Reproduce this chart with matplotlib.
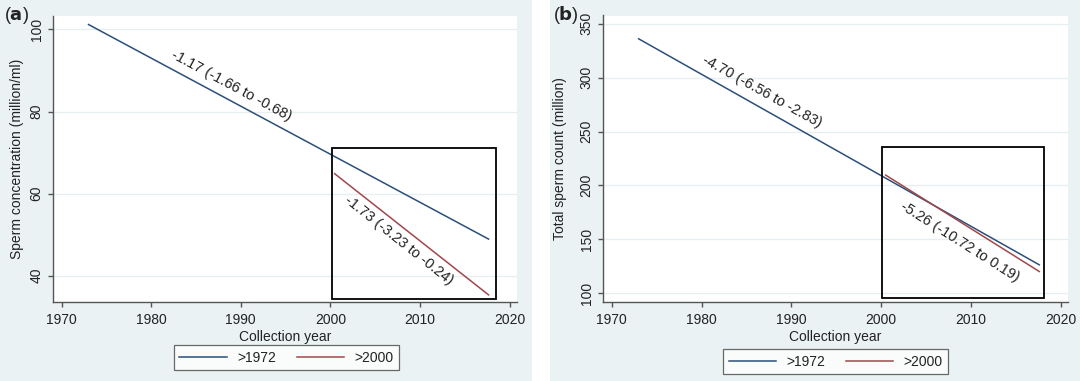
import matplotlib.pyplot as plt
from matplotlib.patches import Rectangle

plt.rcParams['font.family'] = ['Liberation Sans', 'DejaVu Sans']

# panel (a): sperm concentration
years_1972 = [1973.0, 2017.66]
conc_1972 = [101.2, 48.9]
years_2000 = [2000.47, 2017.66]
conc_2000 = [64.85, 35.3]
box_a = [2000.16, 2018.44, 34.2, 71.1]  # x0, x1, y0, y1
label_a1 = "-1.17 (-1.66 to -0.68)"
label_a2 = "-1.73 (-3.23 to -0.24)"

# panel (b): total sperm count
tsc_years_1972 = [1973.0, 2017.6]
tsc_1972 = [336.0, 126.4]
tsc_years_2000 = [2000.5, 2017.6]
tsc_2000 = [209.6, 120.2]
box_b = [2000.07, 2018.1, 95.4, 235.7]
label_b1 = "-4.70 (-6.56 to -2.83)"
label_b2 = "-5.26 (-10.72 to 0.19)"

xticks = [1970, 1980, 1990, 2000, 2010, 2020]
yticks_a = [40, 60, 80, 100]
yticks_b = [100, 150, 200, 250, 300, 350]

W, H = 1080, 381
bg = '#eaf2f3'
navy = '#2b4f7a'
maroon = '#a0474a'
txt = '#222222'
axcol = '#555555'

fig = plt.figure(figsize=(W / 100, H / 100), dpi=100, facecolor='white')

# outer panel backgrounds
fig.patches.append(Rectangle((0, 0), 532 / W, 1, transform=fig.transFigure,
                             facecolor=bg, edgecolor='none', zorder=-10))
fig.patches.append(Rectangle((550 / W, 0), 530 / W, 1, transform=fig.transFigure,
                             facecolor=bg, edgecolor='none', zorder=-10))


def px_axes(x0, x1, y0, y1):
    return fig.add_axes([x0 / W, 1 - y1 / H, (x1 - x0) / W, (y1 - y0) / H])


def style(ax, yticks, ylim, ylabel, ylabx):
    ax.set_facecolor('white')
    ax.set_xlim(1969.0, 2020.8)
    ax.set_ylim(*ylim)
    ax.set_xticks(xticks)
    ax.set_yticks(yticks)
    for s in ['top', 'right']:
        ax.spines[s].set_visible(False)
    for s in ['left', 'bottom']:
        ax.spines[s].set_color(axcol)
        ax.spines[s].set_linewidth(1.0)
    ax.tick_params(axis='both', direction='out', length=3.6, width=1.0,
                   color=axcol, labelsize=10, labelcolor=txt)
    ax.tick_params(axis='x', pad=4.5)
    ax.tick_params(axis='y', pad=3)
    for lab in ax.get_yticklabels():
        lab.set_rotation(90)
        lab.set_va('center')
    ax.grid(axis='y', color='#e6eef0', linewidth=0.9)
    ax.set_axisbelow(True)
    ax.set_xlabel('Collection year', fontsize=10, color=txt)
    ax.xaxis.set_label_coords(0.5, -0.1)
    ax.set_ylabel(ylabel, fontsize=10, color=txt)
    ax.yaxis.set_label_coords(ylabx, 0.5)


def legend(ax, cx, cy):
    leg = ax.legend(loc='center', bbox_to_anchor=(cx / W, 1 - cy / H),
                    bbox_transform=fig.transFigure, ncol=2, fontsize=10,
                    frameon=True, fancybox=False, handlelength=3.4,
                    handletextpad=0.75, columnspacing=1.5, borderpad=0.4)
    fr = leg.get_frame()
    fr.set_edgecolor('#444444')
    fr.set_linewidth(0.9)
    for t in leg.get_texts():
        t.set_color(txt)


# panel (a)
ax1 = px_axes(52.7, 516.7, 15.5, 301.7)
style(ax1, yticks_a, (33.64, 103.4), 'Sperm concentration (million/ml)', -0.0623)
ax1.plot(years_1972, conc_1972, color=navy, lw=1.1, label='>1972', zorder=3)
ax1.plot(years_2000, conc_2000, color=maroon, lw=1.1, label='>2000', zorder=3)
ax1.add_patch(Rectangle((box_a[0], box_a[2]), box_a[1] - box_a[0], box_a[3] - box_a[2],
                        fill=False, edgecolor='black', lw=1.3, zorder=4))
ax1.text(1988.9, 86.4, label_a1, rotation=-28.3, ha='center', va='center',
         fontsize=10.5, color=txt, rotation_mode='anchor')
ax1.text(2007.6, 48.7, label_a2, rotation=-38.5, ha='center', va='center',
         fontsize=10.5, color=txt, rotation_mode='anchor')
legend(ax1, 286.5, 357.5)

# panel (b)
ax2 = px_axes(602.7, 1068, 15.5, 301.7)
style(ax2, yticks_b, (92.2, 357.6), 'Total sperm count (million)', -0.0767)
ax2.plot(tsc_years_1972, tsc_1972, color=navy, lw=1.1, label='>1972', zorder=3)
ax2.plot(tsc_years_2000, tsc_2000, color=maroon, lw=1.1, label='>2000', zorder=3)
ax2.add_patch(Rectangle((box_b[0], box_b[2]), box_b[1] - box_b[0], box_b[3] - box_b[2],
                        fill=False, edgecolor='black', lw=1.3, zorder=4))
ax2.text(1986.7, 287.3, label_b1, rotation=-29.1, ha='center', va='center',
         fontsize=10.5, color=txt, rotation_mode='anchor')
ax2.text(2008.8, 147.5, label_b2, rotation=-32.3, ha='center', va='center',
         fontsize=10.5, color=txt, rotation_mode='anchor')
legend(ax2, 835.8, 361.5)

fig.text(4 / W, 1 - 15 / H, r'($\mathbf{a}$)', fontsize=13, va='center', ha='left', color=txt)
fig.text(553 / W, 1 - 15 / H, r'($\mathbf{b}$)', fontsize=13, va='center', ha='left', color=txt)

fig.savefig('out.png', dpi=100, facecolor='white')
